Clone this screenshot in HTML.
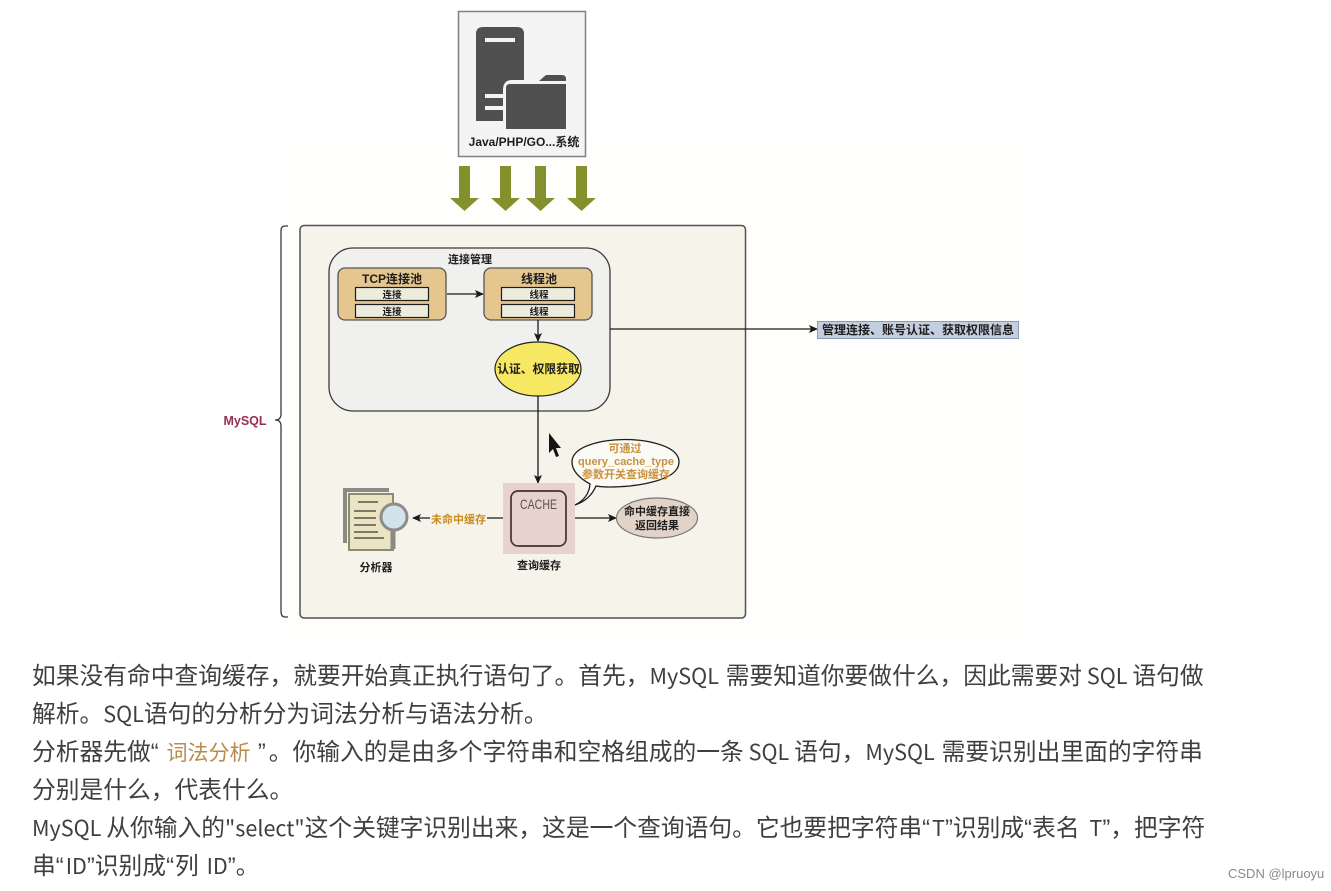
<!DOCTYPE html>
<html><head><meta charset="utf-8"><style>
html,body{margin:0;padding:0;background:#fff}
#p{position:relative;width:1331px;height:891px;overflow:hidden;background:#fff}
svg{position:absolute;left:0;top:0;filter:blur(.35px)}
.l{position:absolute;left:32px;white-space:nowrap;font:23.75px/38px "Noto Sans CJK SC","Liberation Sans",sans-serif;color:#3f3f3f;filter:blur(.3px)}
.l i{font-style:normal;font-family:"Liberation Sans",sans-serif}
.l em{font-style:normal;font-size:21.6px}
.b{font-family:"Liberation Sans","Noto Sans CJK SC",sans-serif;font-weight:700;text-anchor:middle;fill:#1d1d1d}
</style></head><body><div id="p">
<svg width="1331" height="891" viewBox="0 0 1331 891">
<defs>
<marker id="a" markerWidth="10" markerHeight="10" refX="8" refY="4" orient="auto" markerUnits="userSpaceOnUse"><path d="M0 0L9 4L0 8L2 4Z" fill="#1a1a1a"/></marker>
</defs>
<rect x="280" y="140" width="750" height="500" fill="#fefefd"/>
<!-- top box -->
<rect x="458.500" y="11.500" width="127" height="145" fill="#f4f4f4" stroke="#808080" stroke-width="1.500"/>
<path d="M476 34Q476 27 483 27H517Q524 27 524 34V121H476Z" fill="#505050"/>
<rect x="485" y="38" width="30" height="4" fill="#f4f4f4"/>
<rect x="485" y="94" width="20" height="4" fill="#f4f4f4"/>
<rect x="485" y="106" width="20" height="4" fill="#f4f4f4"/>
<path d="M503 129V90Q503 80 512 80H538V129Z" fill="#f4f4f4"/>
<path d="M506 129V88Q506 84 510 84H566V129Z" fill="#505050"/>
<path d="M539 81L546 75H562Q566 75 566 79V81Z" fill="#505050"/>
<text class="b" x="524" y="146" font-size="12">Java/PHP/GO...系统</text>
<!-- big arrows -->
<g fill="#84902c">
<path d="M459 166H470V198H479L464.500 211L450 198H459Z"/>
<path d="M500 166H511V198H520L505.500 211L491 198H500Z"/>
<path d="M535 166H546V198H555L540.500 211L526 198H535Z"/>
<path d="M576 166H587V198H596L581.500 211L567 198H576Z"/>
</g>
<!-- brace -->
<path d="M288 226H285Q281 226 281 231V414Q281 420 275 420Q281 420 281 426V611Q281 617 285 617H288" fill="none" stroke="#3a3a3a" stroke-width="1.300"/>
<text x="245" y="425" font-size="12.500" font-weight="700" text-anchor="middle" fill="#96304e" font-family="Liberation Sans, sans-serif">MySQL</text>
<!-- outer -->
<rect x="300" y="225.500" width="445.500" height="392.500" rx="4" fill="#f6f4ea" stroke="#505050" stroke-width="1.500"/>
<!-- conn mgmt -->
<rect x="329" y="248" width="281" height="163" rx="24" fill="#f0f0ee" stroke="#3a3a3a" stroke-width="1.300"/>
<text class="b" x="470" y="263" font-size="11">连接管理</text>
<rect x="338" y="268" width="108" height="52" rx="7" fill="#e5c68f" stroke="#555" stroke-width="1.300"/>
<rect x="484" y="268" width="108" height="52" rx="7" fill="#e5c68f" stroke="#555" stroke-width="1.300"/>
<text class="b" x="392" y="283" font-size="12">TCP连接池</text>
<text class="b" x="539" y="283" font-size="12">线程池</text>
<g fill="#ecebdc" stroke="#1d1d1d" stroke-width="1.200">
<rect x="355.500" y="287.500" width="73" height="13"/>
<rect x="355.500" y="304.500" width="73" height="13"/>
<rect x="501.500" y="287.500" width="73" height="13"/>
<rect x="501.500" y="304.500" width="73" height="13"/>
</g>
<g font-size="9.500">
<text class="b" x="392" y="298">连接</text>
<text class="b" x="392" y="315">连接</text>
<text class="b" x="539" y="298">线程</text>
<text class="b" x="539" y="315">线程</text>
</g>
<path d="M447 294H483" stroke="#1a1a1a" stroke-width="1.300" marker-end="url(#a)" fill="none"/>
<path d="M538 320V341" stroke="#1a1a1a" stroke-width="1.300" marker-end="url(#a)" fill="none"/>
<ellipse cx="538" cy="369" rx="43" ry="27" fill="#f6e863" stroke="#222" stroke-width="1.200"/>
<text class="b" x="538.500" y="373" font-size="11.800">认证、权限获取</text>
<!-- mgmt label -->
<path d="M610 329H817" stroke="#1a1a1a" stroke-width="1.300" marker-end="url(#a)" fill="none"/>
<rect x="817.500" y="321.500" width="201" height="17" fill="#c3cfdf" stroke="#8a9cb8"/>
<text class="b" x="918" y="334" font-size="12">管理连接、账号认证、获取权限信息</text>
<!-- vertical -->
<path d="M538 396V483" stroke="#1a1a1a" stroke-width="1.300" marker-end="url(#a)" fill="none"/>
<!-- cursor -->
<path d="M549 433V453L553 449L556 457L559 456L556 448H561Z" fill="#151515"/>
<!-- cache -->
<rect x="503" y="483" width="72" height="71" fill="#e8d2cd"/>
<rect x="511" y="491" width="55" height="55" rx="7" fill="#e8d2cd" stroke="#433" stroke-width="1.700"/>
<text x="520" y="509" font-size="14" textLength="37" lengthAdjust="spacingAndGlyphs" fill="#555" font-family="Liberation Sans, sans-serif">CACHE</text>
<text class="b" x="539" y="569" font-size="11">查询缓存</text>
<!-- bubble -->
<path d="M575 505Q589 498 590 484Q572 474 572 462Q572 447 605 441Q625 438 645 441Q679 447 679 462Q679 480 630 486Q607 488 596 486Q590 500 575 505Z" fill="#fbfaf4" stroke="#1d1d1d" stroke-width="1.300"/>
<g font-size="11" fill="#c9923f" font-weight="700" text-anchor="middle" font-family="Liberation Sans, Noto Sans CJK SC, sans-serif">
<text x="625" y="452">可通过</text>
<text x="626" y="465">query_cache_type</text>
<text x="626" y="478">参数开关查询缓存</text>
</g>
<!-- hit -->
<path d="M575 518H616" stroke="#1a1a1a" stroke-width="1.300" marker-end="url(#a)" fill="none"/>
<ellipse cx="657" cy="518" rx="40.500" ry="20" fill="#e2d3c9" stroke="#777" stroke-width="1.200"/>
<text class="b" x="657" y="515" font-size="11">命中缓存直接</text>
<text class="b" x="657" y="529" font-size="11">返回结果</text>
<!-- miss -->
<path d="M503 518H413" stroke="#1a1a1a" stroke-width="1.300" marker-end="url(#a)" fill="none"/>
<rect x="430" y="511" width="57" height="14" fill="#f6f4ea"/>
<text x="458.500" y="523" font-size="11" font-weight="700" text-anchor="middle" fill="#c98c20" font-family="Liberation Sans, Noto Sans CJK SC, sans-serif">未命中缓存</text>
<!-- analyzer icon -->
<path d="M343 488H389V492H347V543H343Z" fill="#8b8b82"/>
<rect x="349" y="494" width="44" height="56" fill="#ece3c3" stroke="#8b8b72" stroke-width="2"/>
<g stroke="#55544a" stroke-width="1.500">
<path d="M358 502H378M354 511H376M354 518H376M354 525H376M354 532H378M354 538H384"/>
</g>
<path d="M393 527L393 549" stroke="#8a8a84" stroke-width="5"/>
<circle cx="394" cy="517" r="13" fill="#d3e3ee" stroke="#8d8d88" stroke-width="3"/>
<text class="b" x="376" y="571" font-size="11">分析器</text>
</svg>
<div class="l" style="top:655px">如果没有命中查询缓存，就要开始真正执行语句了。首先，<em style="margin-right:2px">MySQL </em>需要知道你要做什么，因此需要对<em> SQL </em>语句做</div>
<div class="l" style="top:693px">解析。<em>SQL</em>语句的分析分为词法分析与语法分析。</div>
<div class="l" style="top:731px">分析器先做<i>“</i> <span style="color:#b98a4c;font-size:21px;margin:0 2px 0 2.500px">词法分析</span> <i style="margin-right:3px">”</i>。你输入的是由多个字符串和空格组成的一条<em> SQL </em>语句，<em style="margin-right:2px">MySQL </em>需要识别出里面的字符串</div>
<div class="l" style="top:769px">分别是什么，代表什么。</div>
<div class="l" style="top:807px"><em>MySQL </em>从你输入的<em>"select"</em>这个关键字识别出来，这是一个查询语句。它也要把字符串<i style="margin-right:2px">“</i><em>T</em><i>”</i>识别成<i>“</i>表名<em style="margin-left:5px"> T</em><i>”</i>，把字符</div>
<div class="l" style="top:845px">串<i style="margin-right:2px">“</i><em>ID</em><i>”</i>识别成<i style="margin-right:1px">“</i>列<em style="margin-left:3px"> ID</em><i>”</i>。</div>
<div style="position:absolute;left:1228px;top:866px;font:13px/16px 'Liberation Sans',sans-serif;color:#8a8a8a;white-space:nowrap">CSDN @lpruoyu</div>
</div></body></html>
